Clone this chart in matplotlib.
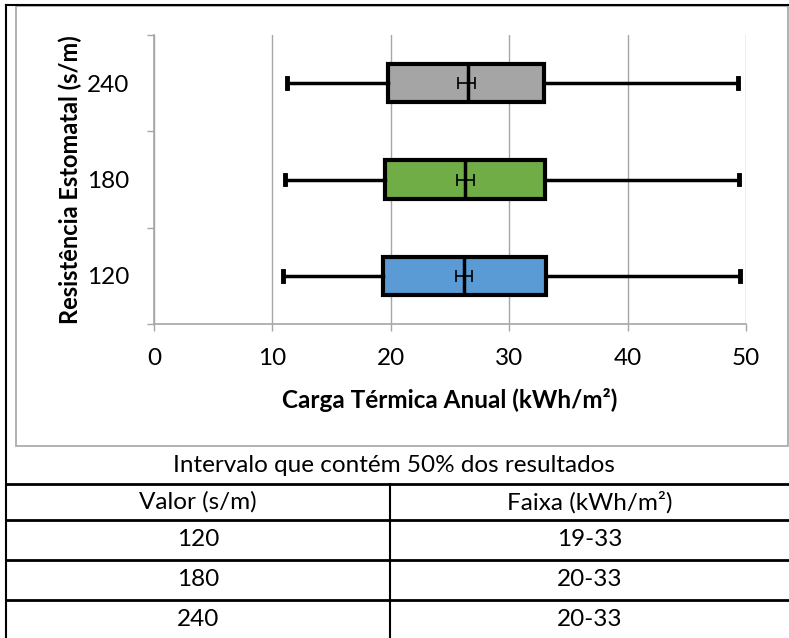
import matplotlib.pyplot as plt
from matplotlib.lines import Line2D
from matplotlib.patches import Rectangle

plt.rcParams["font.family"] = ["Lato", "DejaVu Sans"]

# box plot data (kWh/m²)
categories = ["120", "180", "240"]
whisker_low = [10.9, 11.1, 11.2]
q1 = [19.3, 19.5, 19.8]
median = [26.2, 26.3, 26.5]
q3 = [33.1, 33.0, 32.9]
whisker_high = [49.5, 49.4, 49.3]
mean = [26.2, 26.3, 26.4]
mean_err = [0.7, 0.7, 0.7]
colors = ["#5B9BD5", "#70AD47", "#A5A5A5"]

# table below the chart
table_title = "Intervalo que contém 50% dos resultados"
table_header = ["Valor (s/m)", "Faixa (kWh/m²)"]
table_values = ["120", "180", "240"]
table_ranges = ["19-33", "20-33", "20-33"]

W, H = 789, 638
fig = plt.figure(figsize=(W / 100, H / 100), dpi=100)

# frame / table layer in pixel coordinates
bg = fig.add_axes([0, 0, 1, 1])
bg.set_xlim(0, W)
bg.set_ylim(H, 0)
bg.axis("off")
bg.add_patch(Rectangle((16, 6), 772, 440, fill=False, edgecolor="#A6A6A6", lw=1.2))
bg.add_line(Line2D([6, W], [5, 5], color="black", lw=1.5))
bg.add_line(Line2D([6, 6], [5, H], color="black", lw=1.5))
row_lines = [484, 520, 560, 600]
for y in row_lines:
    bg.add_line(Line2D([6, W], [y, y], color="black", lw=2))
bg.add_line(Line2D([390, 390], [484, H], color="black", lw=1.5))
fs = 17.5
bg.text(394, 466, table_title, ha="center", va="center", fontsize=fs)
bg.text(198, 502, table_header[0], ha="center", va="center", fontsize=fs)
bg.text(590, 502, table_header[1], ha="center", va="center", fontsize=fs)
row_centers = [540, 580, 619]
for v, r, yc in zip(table_values, table_ranges, row_centers):
    bg.text(198, yc, v, ha="center", va="center", fontsize=fs)
    bg.text(590, yc, r, ha="center", va="center", fontsize=fs)

# chart
ax = fig.add_axes([154 / W, 1 - 324 / H, (746 - 154) / W, (324 - 35) / H])
stats = []
for i in range(len(categories)):
    stats.append({
        "whislo": whisker_low[i], "q1": q1[i], "med": median[i],
        "q3": q3[i], "whishi": whisker_high[i], "fliers": [],
        "label": categories[i],
    })
pos = [1, 2, 3]
bp = ax.bxp(
    stats, positions=pos, orientation="horizontal", widths=0.4,
    patch_artist=True, showfliers=False, capwidths=0.1,
    boxprops=dict(edgecolor="black", linewidth=3),
    medianprops=dict(color="black", linewidth=2.5),
    whiskerprops=dict(color="black", linewidth=2.5),
    capprops=dict(color="black", linewidth=3.5),
)
for patch, c in zip(bp["boxes"], colors):
    patch.set_facecolor(c)
ax.errorbar(mean, pos, xerr=mean_err, fmt="none", ecolor="black",
            elinewidth=1.2, capsize=4.3, capthick=1.2, zorder=5)

ax.set_xlim(0, 50)
ax.set_ylim(0.5, 3.5)
ax.set_xticks([0, 10, 20, 30, 40, 50])
ax.set_yticks([0.5, 1.5, 2.5, 3.5])
ax.set_yticklabels([])
ax.set_yticks(pos, minor=True)
ax.set_yticklabels(categories, minor=True)
ax.tick_params(axis="y", which="minor", length=0, pad=18, labelsize=17.5)
ax.tick_params(axis="y", which="major", length=5, color="#A6A6A6", width=1)
ax.tick_params(axis="x", length=5, color="#A6A6A6", width=1, pad=12, labelsize=17.5)
ax.grid(axis="x", color="#A6A6A6", lw=1)
ax.set_axisbelow(True)
for s in ["top", "right"]:
    ax.spines[s].set_visible(False)
for s in ["left", "bottom"]:
    ax.spines[s].set_color("#A6A6A6")
    ax.spines[s].set_linewidth(1.2)
ax.set_xlabel("Carga Térmica Anual (kWh/m²)", fontsize=17.5, fontweight="bold", labelpad=14)
ax.set_ylabel("Resistência Estomatal (s/m)", fontsize=17, fontweight="bold", labelpad=3)

fig.savefig("out.png", dpi=100)
